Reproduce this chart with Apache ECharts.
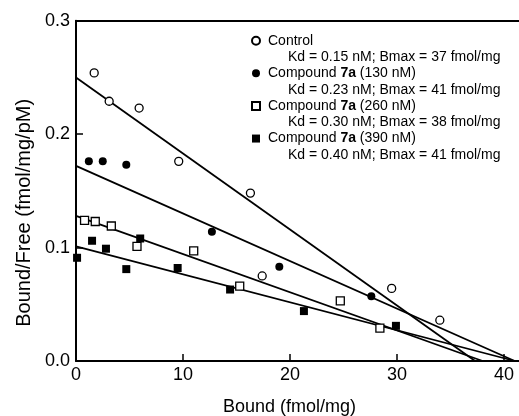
<!DOCTYPE html>
<html><head><meta charset="utf-8">
<script src="https://cdn.jsdelivr.net/npm/echarts@6/dist/echarts.min.js"></script>
<style>html,body{margin:0;padding:0;background:#fff}#c{width:519px;height:416px}</style>
</head><body><div id="c"></div>
<script>
const seriesNames = ['Control', 'Compound 7a (130 nM)', 'Compound 7a (260 nM)', 'Compound 7a (390 nM)'];
const fitLabels = ['Kd = 0.15 nM; Bmax = 37 fmol/mg', 'Kd = 0.23 nM; Bmax = 41 fmol/mg', 'Kd = 0.30 nM; Bmax = 38 fmol/mg', 'Kd = 0.40 nM; Bmax = 41 fmol/mg'];
const controlX = [1.7, 3.1, 5.9, 9.6, 16.3, 17.4, 29.5, 34.0];
const controlY = [0.254, 0.229, 0.223, 0.176, 0.148, 0.075, 0.064, 0.036];
const c130X = [1.2, 2.5, 4.7, 12.7, 19.0, 27.6];
const c130Y = [0.176, 0.176, 0.173, 0.114, 0.083, 0.057];
const c260X = [0.8, 1.8, 3.3, 5.7, 11.0, 15.3, 24.7, 28.4];
const c260Y = [0.124, 0.123, 0.119, 0.101, 0.097, 0.066, 0.053, 0.029];
const c390X = [0.1, 1.5, 2.8, 4.7, 6.0, 9.5, 14.4, 21.3, 29.9];
const c390Y = [0.091, 0.106, 0.099, 0.081, 0.108, 0.082, 0.063, 0.044, 0.031];
const fitYIntercept = [0.250, 0.172, 0.128, 0.101];
const fitXIntercept = [37.3, 41.0, 38.0, 41.0];
const xTicks = [0, 10, 20, 30, 40];
const yTicks = [0, 0.1, 0.2, 0.3];

const pts = [[controlX, controlY], [c130X, c130Y], [c260X, c260Y], [c390X, c390Y]];
const symbols = ['circle', 'circle', 'rect', 'rect'];
const filled = [false, true, false, true];
const FONT = 'Liberation Sans, Arial, Helvetica, sans-serif';
const LH = 16.3;

const series = [];
pts.forEach((p, i) => {
  series.push({
    name: seriesNames[i], type: 'scatter', z: 5,
    symbol: symbols[i], symbolSize: 8,
    itemStyle: { color: filled[i] ? '#000' : '#fff', borderColor: '#000', borderWidth: filled[i] ? 0 : 1.3, opacity: 1 },
    data: p[0].map((x, j) => [x, p[1][j]]),
    clip: false
  });
});
fitYIntercept.forEach((y0, i) => {
  series.push({
    name: 'fit ' + i, type: 'line', z: 3, silent: true, showSymbol: false, symbol: 'none',
    lineStyle: { color: '#000', width: 1.8 },
    data: [[0, y0], [fitXIntercept[i], 0]]
  });
});

const tok = (s) => ({ fontSize: 14, lineHeight: LH, fontFamily: FONT, color: '#000', ...s });

const chart = echarts.init(document.getElementById('c'), null, { renderer: 'canvas' });
chart.setOption({
  animation: false,
  backgroundColor: '#fff',
  textStyle: { fontFamily: FONT, color: '#000' },
  grid: { left: 76, right: 0, top: 20.7, bottom: 55, outerBoundsMode: 'none', containLabel: false },
  legend: {
    orient: 'vertical', left: 251, top: 16.3, padding: 0,
    itemWidth: 8, itemHeight: 8, itemGap: -LH, selectedMode: false,
    data: seriesNames,
    formatter: name => {
      const i = seriesNames.indexOf(name);
      let head;
      if (name.indexOf('7a') >= 0) {
        const parts = name.split('7a');
        head = '{f|' + parts[0] + '}{b|7a}{n|' + parts[1] + '}';
      } else head = '{f|' + name + '}';
      return '{e| }\n' + head + '\n{k|' + fitLabels[i] + '}';
    },
    textStyle: {
      fontFamily: FONT, fontSize: 14, color: '#000', lineHeight: LH,
      rich: {
        e: tok({}),
        f: tok({ padding: [0, 0, 0, 3] }),
        n: tok({}),
        b: tok({ fontWeight: 'bold' }),
        k: tok({ padding: [0, 0, 0, 23] })
      }
    }
  },
  xAxis: [{
    type: 'value', position: 'bottom', min: 0, max: 41.4,
    axisLine: { show: true, onZero: false, lineStyle: { color: '#000', width: 2 } },
    axisTick: { show: true, inside: true, length: 7, customValues: xTicks, lineStyle: { color: '#000', width: 1.5 } },
    axisLabel: { customValues: xTicks, fontSize: 18, color: '#000', margin: 5, fontFamily: FONT },
    splitLine: { show: false },
    name: 'Bound (fmol/mg)', nameLocation: 'middle', nameGap: 37,
    nameTextStyle: { fontSize: 18, color: '#000', fontFamily: FONT, padding: [0, 16, 0, 0] }
  }, {
    type: 'value', position: 'top', min: 0, max: 41.4,
    axisLine: { show: true, onZero: false, lineStyle: { color: '#000', width: 2 } },
    axisTick: { show: false }, axisLabel: { show: false }, splitLine: { show: false }
  }],
  yAxis: [{
    type: 'value', min: 0, max: 0.3, interval: 0.1,
    axisLine: { show: true, onZero: false, lineStyle: { color: '#000', width: 2 } },
    axisTick: { show: true, inside: true, length: 7, customValues: yTicks, lineStyle: { color: '#000', width: 1.5 } },
    axisLabel: { customValues: yTicks, fontSize: 18, color: '#000', margin: 6, fontFamily: FONT, formatter: v => v.toFixed(1) },
    splitLine: { show: false },
    name: 'Bound/Free (fmol/mg/pM)', nameLocation: 'middle', nameGap: 42, nameRotate: 90,
    nameTextStyle: { fontSize: 20, color: '#000', fontFamily: FONT, padding: [0, 44, 0, 0] }
  }],
  series: series
});
</script></body></html>
